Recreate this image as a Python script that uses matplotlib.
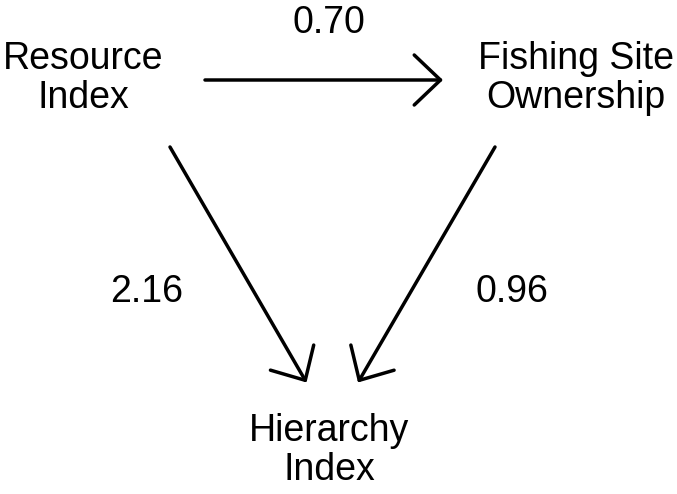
import matplotlib
matplotlib.use("Agg")
import matplotlib.pyplot as plt

nodes = ["Resource\nIndex", "Fishing Site\nOwnership", "Hierarchy\nIndex"]
coefficients = ["0.70", "2.16", "0.96"]

plt.rcParams['font.family'] = ['Liberation Sans', 'DejaVu Sans']

fig = plt.figure(figsize=(6.77, 4.94), dpi=100)
ax = fig.add_axes([0, 0, 1, 1])
ax.set_xlim(0, 677)
ax.set_ylim(494, 0)
ax.axis('off')

fs = 27
node_pos = [(83, 108), (575.5, 108), (329.5, 480)]
for (x, y), t in zip(node_pos, nodes):
    ax.text(x, y, t, ha='center', va='baseline', fontsize=fs,
            linespacing=1.1, multialignment='center')

arrows = [((205, 80), (443, 80)), ((170, 147), (306.5, 382.5)),
          ((495, 147), (358, 382.5))]
for (a, b) in arrows:
    ax.annotate("", xy=b, xytext=a,
                arrowprops=dict(arrowstyle="->,head_length=1.05,head_width=1.0",
                                mutation_scale=18, lw=2.5, color='black',
                                shrinkA=0, shrinkB=0))

label_pos = [(329, 33), (146.5, 302), (511.5, 302)]
for (x, y), t in zip(label_pos, coefficients):
    ax.text(x, y, t, ha='center', va='baseline', fontsize=fs)

fig.savefig("out.png", dpi=100)
